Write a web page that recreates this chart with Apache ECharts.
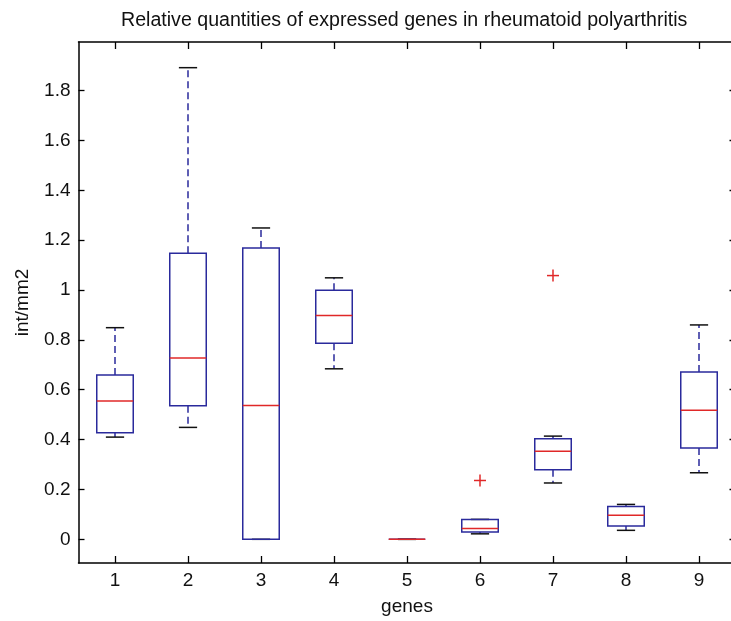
<!DOCTYPE html>
<html>
<head>
<meta charset="utf-8">
<script src="https://cdn.jsdelivr.net/npm/echarts@6/dist/echarts.min.js"></script>
<style>
html,body{margin:0;padding:0;background:#fff;}
#chart{width:731px;height:621px;}
</style>
</head>
<body>
<div id="chart"></div>
<script>
// ---- data ----
const genes = ['1', '2', '3', '4', '5', '6', '7', '8', '9'];
const lowerWhisker = [0.410, 0.449, 0.000, 0.684, 0.000, 0.022, 0.226, 0.036, 0.267];
const q1           = [0.427, 0.536, 0.000, 0.787, 0.000, 0.029, 0.279, 0.053, 0.366];
const medians      = [0.555, 0.727, 0.537, 0.898, 0.000, 0.043, 0.353, 0.097, 0.518];
const q3           = [0.659, 1.148, 1.169, 0.999, 0.000, 0.080, 0.403, 0.132, 0.671];
const upperWhisker = [0.849, 1.892, 1.249, 1.049, 0.000, 0.080, 0.414, 0.140, 0.860];
const outlierGene  = ['6', '7'];
const outlierValue = [0.236, 1.058];
const yTicks = [0, 0.2, 0.4, 0.6, 0.8, 1, 1.2, 1.4, 1.6, 1.8];
const yMin = -0.095, yMax = 1.995;

const BLUE = '#2a2a9c', RED = '#e02828', BLACK = '#111111';
const FONT = 'Liberation Sans, Arial, sans-serif';
const FS = 19;
const LW = 1.5;

const boxData = genes.map((g, i) => [i, lowerWhisker[i], q1[i], medians[i], q3[i], upperWhisker[i]]);
const outData = outlierGene.map((g, k) => [genes.indexOf(g), outlierValue[k]]);

const chart = echarts.init(document.getElementById('chart'), null, {renderer: 'canvas'});

function line(x1, y1, x2, y2, color, dash) {
  return {type: 'line', shape: {x1, y1, x2, y2},
    style: {stroke: color, lineWidth: LW, lineDash: dash || null, fill: null}};
}

const axisLineStyle = {show: true, onZero: false, lineStyle: {color: '#000', width: 1.5}};
const tickStyle = {color: '#000', width: 1.3};

chart.setOption({
  animation: false,
  backgroundColor: '#fff',
  title: {
    text: 'Relative quantities of expressed genes in rheumatoid polyarthritis',
    left: 121, top: 11, padding: 0,
    textStyle: {fontFamily: FONT, fontSize: 19.6, fontWeight: 'normal', color: '#111'}
  },
  grid: {left: 78.5, width: 657, top: 42, bottom: 58, containLabel: false, outerBoundsMode: 'none'},
  xAxis: [{
    type: 'category', data: genes, position: 'bottom', boundaryGap: true,
    axisLine: axisLineStyle, splitLine: {show: false},
    name: 'genes', nameLocation: 'middle', nameGap: 34,
    nameTextStyle: {fontFamily: FONT, fontSize: FS, color: '#111'},
    axisTick: {show: true, inside: true, length: 7, alignWithLabel: true, interval: 0, lineStyle: tickStyle},
    axisLabel: {fontFamily: FONT, fontSize: FS, color: '#111', margin: 8, interval: 0}
  }, {
    type: 'category', data: genes, position: 'top', boundaryGap: true,
    axisLine: axisLineStyle, splitLine: {show: false},
    axisTick: {show: true, inside: true, length: 7, alignWithLabel: true, interval: 0, lineStyle: tickStyle},
    axisLabel: {show: false}
  }],
  yAxis: [{
    type: 'value', min: yMin, max: yMax, position: 'left',
    axisLine: axisLineStyle, splitLine: {show: false},
    name: 'int/mm2', nameLocation: 'middle', nameGap: 46, nameRotate: 90,
    nameTextStyle: {fontFamily: FONT, fontSize: FS, color: '#111'},
    axisTick: {show: true, inside: true, length: 6, customValues: yTicks, lineStyle: tickStyle},
    axisLabel: {fontFamily: FONT, fontSize: FS, color: '#111', margin: 8, customValues: yTicks}
  }, {
    type: 'value', min: yMin, max: yMax, position: 'right',
    axisLine: axisLineStyle, splitLine: {show: false},
    axisTick: {show: true, inside: true, length: 6, customValues: yTicks, lineStyle: tickStyle},
    axisLabel: {show: false}
  }],
  series: [{
    type: 'custom',
    name: 'boxes',
    xAxisIndex: 0, yAxisIndex: 0,
    data: boxData,
    encode: {x: 0, y: [1, 2, 3, 4, 5]},
    renderItem: function (params, api) {
      const i = api.value(0);
      const band = api.size([1, 0])[0];
      const half = band * 0.25, capHalf = band * 0.125;
      const cx = api.coord([i, 0])[0];
      const yLw = api.coord([i, api.value(1)])[1];
      const yQ1 = api.coord([i, api.value(2)])[1];
      const yMed = api.coord([i, api.value(3)])[1];
      const yQ3 = api.coord([i, api.value(4)])[1];
      const yUw = api.coord([i, api.value(5)])[1];
      const children = [];
      if (yUw < yQ3) children.push(line(cx, yQ3, cx, yUw, BLUE, [7, 4]));
      if (yLw > yQ1) children.push(line(cx, yQ1, cx, yLw, BLUE, [7, 4]));
      children.push(line(cx - capHalf, yUw, cx + capHalf, yUw, BLACK));
      children.push(line(cx - capHalf, yLw, cx + capHalf, yLw, BLACK));
      children.push({type: 'rect', shape: {x: cx - half, y: yQ3, width: 2 * half, height: yQ1 - yQ3},
        style: {stroke: BLUE, fill: null, lineWidth: LW}});
      children.push(line(cx - half, yMed, cx + half, yMed, RED));
      return {type: 'group', children: children};
    }
  }, {
    type: 'custom',
    name: 'outliers',
    xAxisIndex: 0, yAxisIndex: 0,
    data: outData,
    encode: {x: 0, y: 1},
    renderItem: function (params, api) {
      const p = api.coord([api.value(0), api.value(1)]);
      const s = 6;
      return {type: 'group', children: [
        line(p[0] - s, p[1], p[0] + s, p[1], RED),
        line(p[0], p[1] - s, p[0], p[1] + s, RED)
      ]};
    }
  }]
});
</script>
</body>
</html>
